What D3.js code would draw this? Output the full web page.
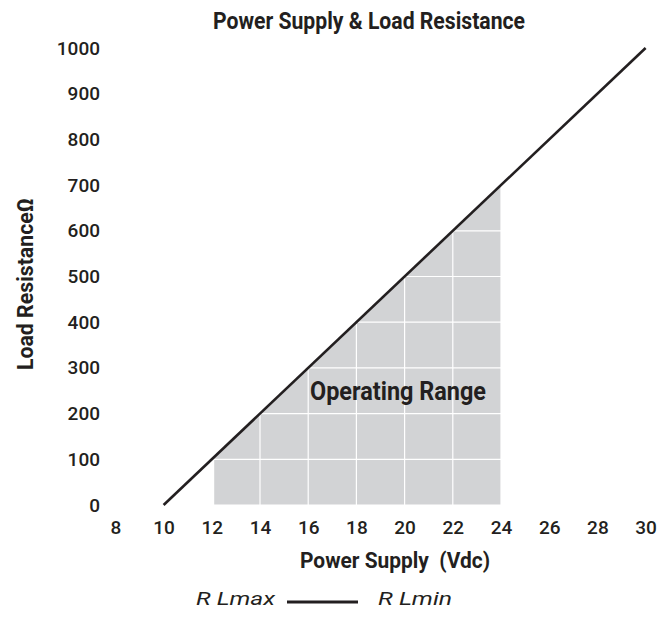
<!DOCTYPE html>
<html lang="en">
<head>
    <meta charset="UTF-8">
    <title>Power Supply & Load Resistance</title>
    <script src="https://d3js.org/d3.v7.min.js"></script>
    <style>
        body { margin: 0; background: #fff; }
        text { font-family: Roboto, "Liberation Sans", sans-serif; fill: #231f20; }
        .tick-label { font-size: 19px; font-weight: 500; }
        .bold { font-weight: 700; }
    </style>
</head>
<body>
    <script>
        // straight line R Lmax / R Lmin
        const lineVolts = [10, 30]
        const lineOhms = [0, 1000]
        // shaded operating range
        const rangeVolts = [12.1, 12.1, 24, 24]
        const rangeOhms = [0, 105, 700, 0]
        const xTicks = [8, 10, 12, 14, 16, 18, 20, 22, 24, 26, 28, 30]
        const yTicks = [0, 100, 200, 300, 400, 500, 600, 700, 800, 900, 1000]

        const width = 667, height = 617

        const svg = d3.select("body").append("svg")
            .attr("width", width)
            .attr("height", height)

        const x = d3.scaleLinear().domain([8, 30]).range([115.4, 645.6])
        const y = d3.scaleLinear().domain([0, 1000]).range([505, 48])

        // operating range area
        const rangePts = rangeVolts.map((v, i) => [x(v), y(rangeOhms[i])])
        svg.append("path")
            .attr("d", "M" + rangePts.join("L") + "Z")
            .attr("fill", "#d2d3d5")

        // white grid
        const grid = svg.append("g")
            .attr("stroke", "#fff")
            .attr("stroke-width", 1.2)
        grid.selectAll(".vg")
            .data(xTicks.filter(v => v >= 10))
            .enter().append("line")
            .attr("x1", d => x(d)).attr("x2", d => x(d))
            .attr("y1", y(0)).attr("y2", y(1000))
        grid.selectAll(".hg")
            .data(yTicks)
            .enter().append("line")
            .attr("x1", x(10)).attr("x2", x(30))
            .attr("y1", d => y(d)).attr("y2", d => y(d))

        // main line
        svg.append("path")
            .datum(lineVolts.map((v, i) => [v, lineOhms[i]]))
            .attr("d", d3.line().x(d => x(d[0])).y(d => y(d[1])))
            .attr("fill", "none")
            .attr("stroke", "#231f20")
            .attr("stroke-width", 2.6)

        // axes (labels only)
        const xAxis = svg.append("g")
            .attr("transform", "translate(0," + y(0) + ")")
            .call(d3.axisBottom(x).tickValues(xTicks).tickSize(0).tickPadding(15.5))
        xAxis.select(".domain").remove()
        xAxis.selectAll("text").attr("class", "tick-label").attr("fill", "#231f20")

        const yAxis = svg.append("g")
            .attr("transform", "translate(100,0)")
            .call(d3.axisLeft(y).tickValues(yTicks).tickFormat(d3.format("d")).tickSize(0).tickPadding(0))
        yAxis.select(".domain").remove()
        yAxis.selectAll("text").attr("class", "tick-label").attr("fill", "#231f20")

        // title
        svg.append("text")
            .attr("class", "bold")
            .attr("x", 369)
            .attr("y", 29)
            .attr("text-anchor", "middle")
            .attr("font-size", 23)
            .attr("textLength", 312)
            .attr("lengthAdjust", "spacingAndGlyphs")
            .text("Power Supply & Load Resistance")

        // x axis title
        svg.append("text")
            .attr("class", "bold")
            .attr("x", 395)
            .attr("y", 568)
            .attr("text-anchor", "middle")
            .attr("font-size", 22)
            .attr("textLength", 190)
            .attr("lengthAdjust", "spacingAndGlyphs")
            .style("white-space", "pre")
            .text("Power Supply  (Vdc)")

        // y axis title
        svg.append("text")
            .attr("class", "bold")
            .attr("transform", "translate(33,284) rotate(-90)")
            .attr("text-anchor", "middle")
            .attr("font-size", 22)
            .attr("textLength", 172)
            .attr("lengthAdjust", "spacingAndGlyphs")
            .text("Load ResistanceΩ")

        // area label
        svg.append("text")
            .attr("class", "bold")
            .attr("x", 398)
            .attr("y", 400)
            .attr("text-anchor", "middle")
            .attr("font-size", 26)
            .attr("textLength", 176)
            .attr("lengthAdjust", "spacingAndGlyphs")
            .text("Operating Range")

        // legend
        const legend = svg.append("g")
        legend.append("text")
            .attr("x", 196).attr("y", 605)
            .attr("font-size", 18)
            .attr("font-style", "italic")
            .attr("textLength", 79)
            .attr("lengthAdjust", "spacingAndGlyphs")
            .text("R Lmax")
        legend.append("line")
            .attr("x1", 287).attr("x2", 358)
            .attr("y1", 602).attr("y2", 602)
            .attr("stroke", "#231f20")
            .attr("stroke-width", 3)
        legend.append("text")
            .attr("x", 378).attr("y", 605)
            .attr("font-size", 18)
            .attr("font-style", "italic")
            .attr("textLength", 74)
            .attr("lengthAdjust", "spacingAndGlyphs")
            .text("R Lmin")
    </script>
</body>
</html>
